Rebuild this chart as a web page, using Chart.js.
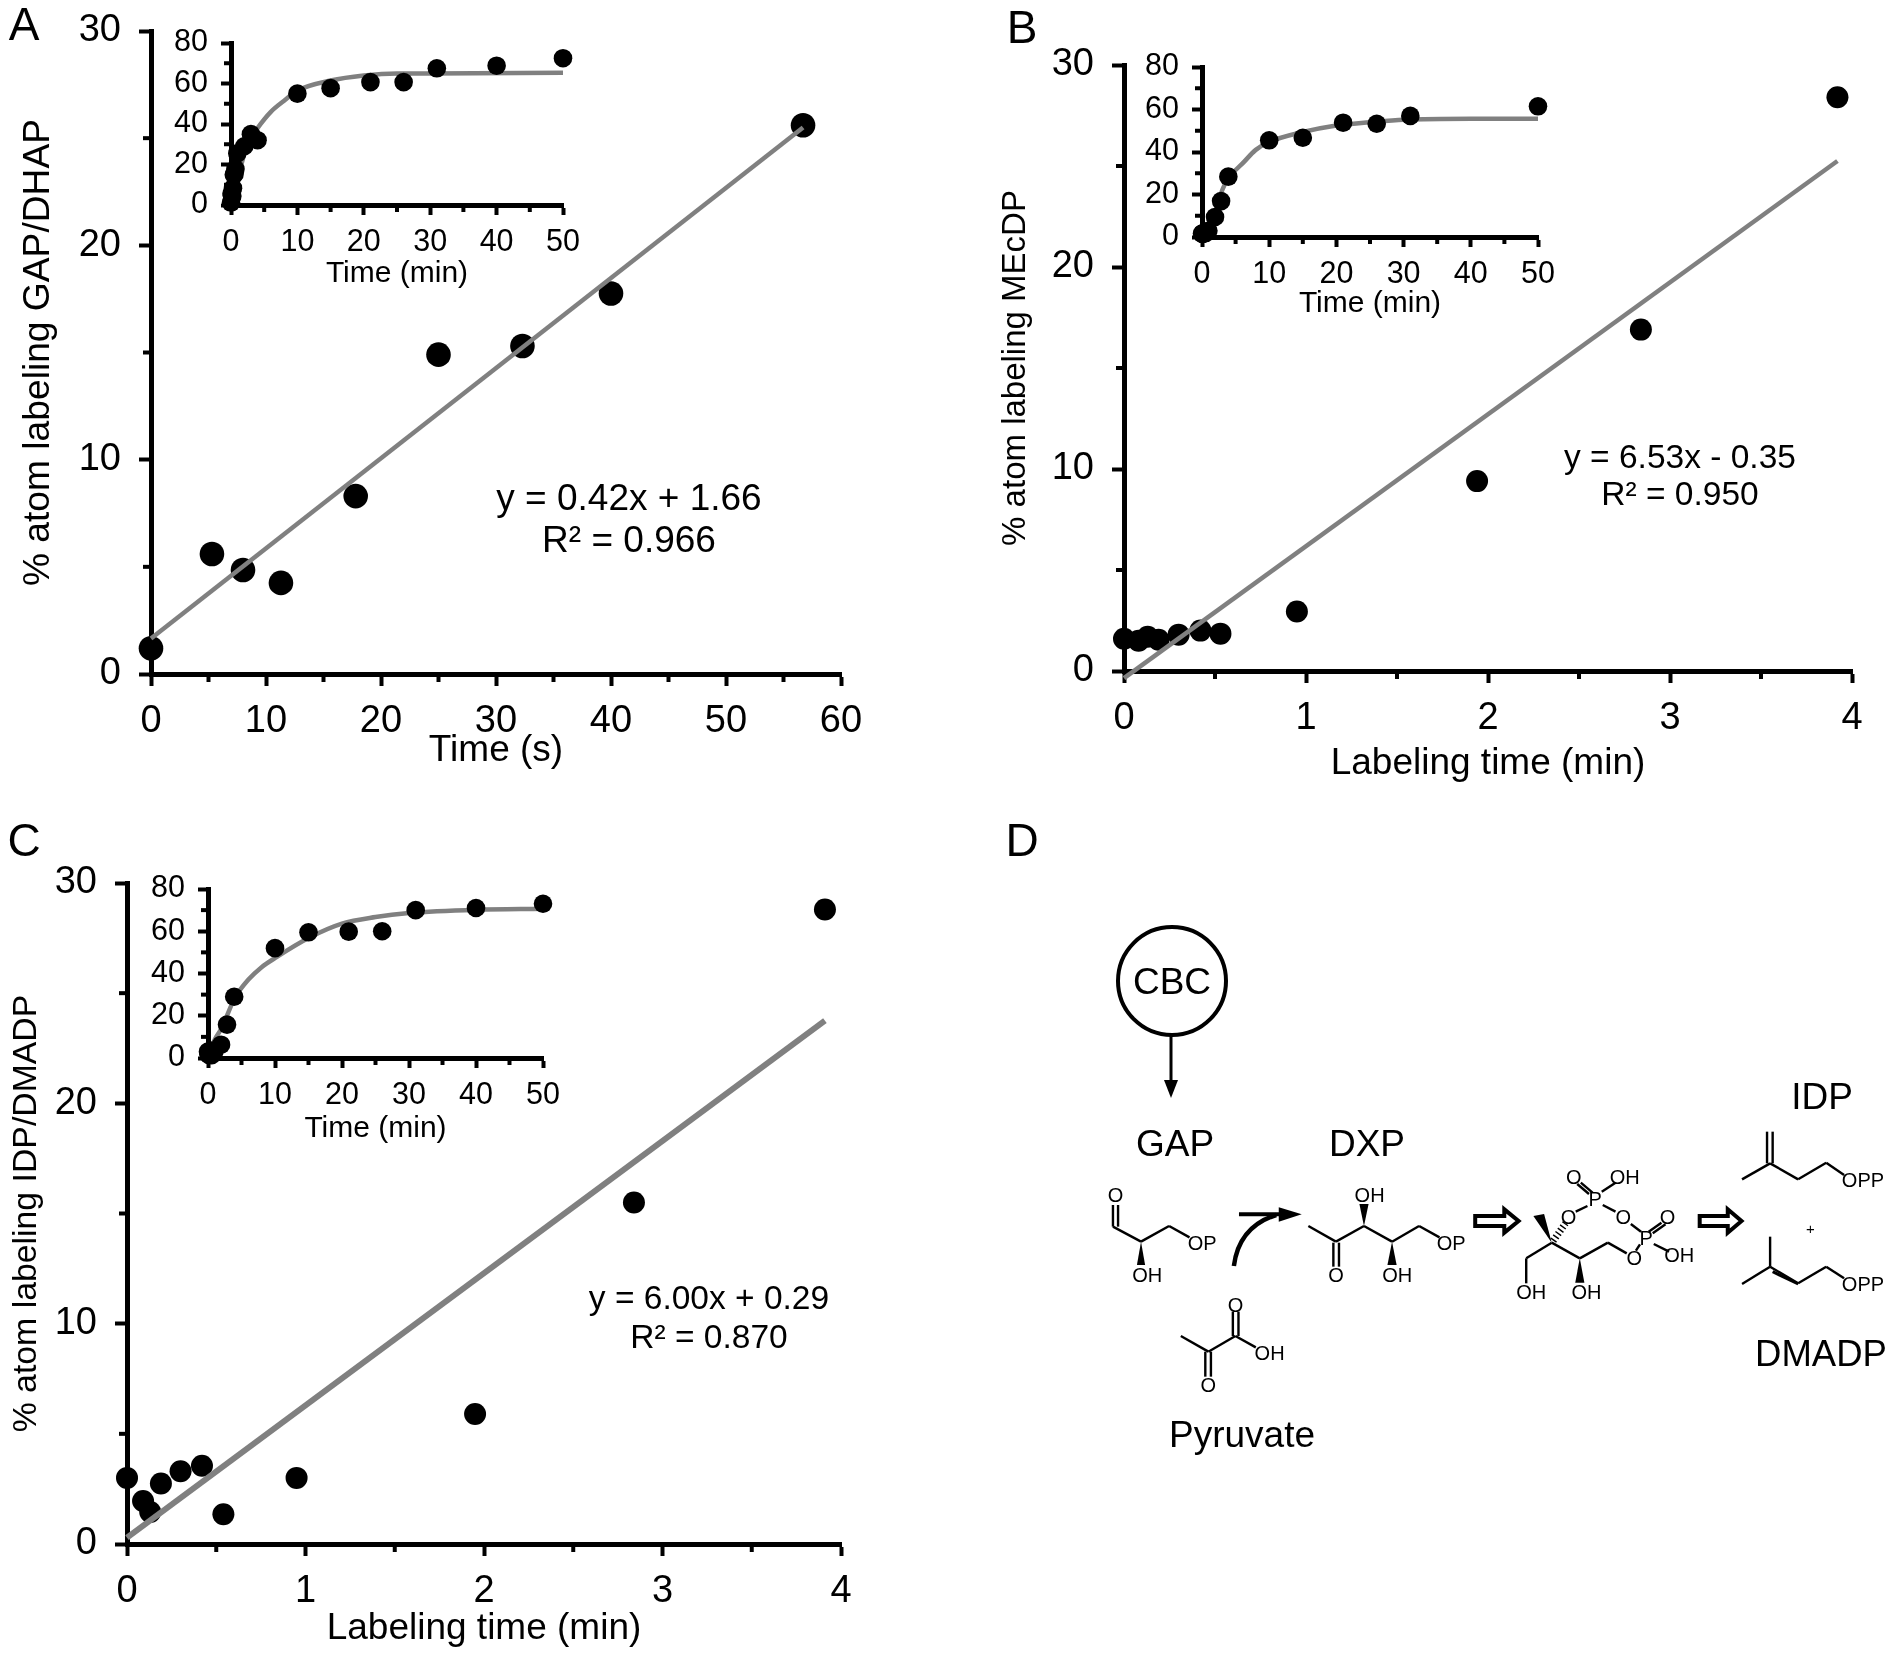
<!DOCTYPE html>
<html>
<head>
<meta charset="utf-8">
<title>Atom labeling</title>
<script src="https://cdn.jsdelivr.net/npm/chart.js@4/dist/chart.umd.min.js"></script>
<style>
html,body{margin:0;padding:0;background:#fff;width:1890px;height:1653px;overflow:hidden}
canvas{position:absolute}
#over{position:absolute;left:0;top:0}
#over text{font-family:"Liberation Sans",Arial,sans-serif;fill:#000;text-anchor:middle;dominant-baseline:central}
</style>
</head>
<body>
<svg id="over" width="1890" height="1653"></svg>
<script>
// panel A, main plot (seconds)
var aTime = [0, 5.3, 8, 11.3, 17.8, 25, 32.3, 40, 56.7];
var aLabel = [1.2, 5.6, 4.85, 4.25, 8.3, 14.9, 15.3, 17.75, 25.6];
var aFitX = [0, 56.7];
var aFitY = [1.66, 25.5];
// panel A, inset (minutes)
var aInsetTime = [0, 0.09, 0.13, 0.19, 0.3, 0.42, 0.54, 0.67, 0.95, 2, 3, 4, 10, 15, 21, 26, 31, 40, 50];
var aInsetLabel = [1.2, 5.6, 4.85, 4.25, 8.3, 14.9, 15.3, 17.75, 25.5, 29, 35, 32, 55, 57.7, 60.7, 60.7, 67.5, 68.8, 72.5];
var aCurveX = [0, 1, 2, 3, 4, 6, 8, 10, 15, 20, 25, 30, 50];
var aCurveY = [1.5, 13, 25, 33, 38, 46, 51.5, 56.5, 61.5, 64, 65, 65, 65.3];

// panel B
var bTime = [0, 0.08, 0.13, 0.19, 0.3, 0.42, 0.53, 0.95, 1.94, 2.84, 3.92];
var bLabel = [1.6, 1.5, 1.7, 1.55, 1.8, 2, 1.85, 2.95, 9.4, 16.9, 28.4];
var bFitX = [0, 3.92];
var bFitY = [-0.35, 25.25];
var bInsetTime = [0, 0.08, 0.13, 0.19, 0.3, 0.42, 0.53, 0.95, 1.94, 2.84, 3.92, 10, 15, 21, 26, 31, 50];
var bInsetLabel = [1.6, 1.5, 1.7, 1.55, 1.8, 2, 1.85, 2.95, 9.4, 16.9, 28.4, 45.5, 46.7, 53.8, 53.3, 57, 61.5];
var bCurveX = [0, 1, 2, 3, 4, 6, 8, 10, 15, 20, 25, 30, 40, 50];
var bCurveY = [0.8, 5.5, 11, 22, 28, 34.5, 41, 44.7, 49.4, 52.5, 54, 55.2, 55.7, 55.7];

// panel C
var cTime = [0, 0.09, 0.13, 0.19, 0.3, 0.42, 0.54, 0.95, 1.95, 2.84, 3.91];
var cLabel = [3, 1.95, 1.45, 2.75, 3.3, 3.55, 1.35, 3, 5.9, 15.5, 28.8];
var cFitX = [0, 3.91];
var cFitY = [0.29, 23.75];
var cInsetTime = [0, 0.09, 0.13, 0.19, 0.3, 0.42, 0.54, 0.95, 1.95, 2.84, 3.91, 10, 15, 21, 26, 31, 40, 50];
var cInsetLabel = [3, 1.95, 1.45, 2.75, 3.3, 3.55, 1.35, 3, 6.3, 15.8, 29, 52, 59.5, 59.8, 60, 70, 71, 73];
var cCurveX = [0, 1, 2, 4, 6, 8, 10, 15, 20, 25, 30, 40, 50];
var cCurveY = [0.8, 8.7, 14, 28.4, 37, 43, 47.3, 56.8, 63.6, 66.7, 68.6, 70.2, 70.7];

var FONT = '"Liberation Sans", Arial, sans-serif';

function toXY(xs, ys){
	var out = [];
	for(var i = 0; i < xs.length; i++){
		out.push({x: xs[i], y: ys[i]});
	}
	return out;
}

// short in-between ticks, placed through the chart's own scales
var minorTicks = {
	id: 'minorTicks',
	beforeDatasetsDraw: function(chart, args, opts){
		var ctx = chart.ctx, sx = chart.scales.x, sy = chart.scales.y, v;
		ctx.save();
		ctx.strokeStyle = '#000';
		ctx.lineWidth = opts.width;
		for(v = sx.min + opts.dx / 2; v < sx.max; v += opts.dx){
			var px = sx.getPixelForValue(v);
			ctx.beginPath();
			ctx.moveTo(px, sx.top);
			ctx.lineTo(px, sx.top + opts.length);
			ctx.stroke();
		}
		for(v = sy.min + opts.dy / 2; v < sy.max; v += opts.dy){
			var py = sy.getPixelForValue(v);
			ctx.beginPath();
			ctx.moveTo(sy.right, py);
			ctx.lineTo(sy.right - opts.length, py);
			ctx.stroke();
		}
		ctx.restore();
	}
};

function makeChart(c){
	var canvas = document.createElement('canvas');
	var left = c.plot[0] - c.margin[0], top = c.plot[1] - c.margin[1];
	var w = c.plot[2] - c.plot[0] + c.margin[0] + c.margin[2];
	var h = c.plot[3] - c.plot[1] + c.margin[1] + c.margin[3];
	canvas.width = w;
	canvas.height = h;
	canvas.style.left = left + 'px';
	canvas.style.top = top + 'px';
	canvas.style.width = w + 'px';
	canvas.style.height = h + 'px';
	document.body.insertBefore(canvas, document.getElementById('over'));
	return new Chart(canvas.getContext('2d'), {
		type: 'scatter',
		data: {
			datasets: [{
				data: toXY(c.pointsX, c.pointsY),
				order: c.lineOnTop ? 2 : 1,
				showLine: false,
				pointRadius: c.radius,
				pointBackgroundColor: '#000',
				pointBorderWidth: 0,
				clip: false
			}, {
				data: toXY(c.lineX, c.lineY),
				order: c.lineOnTop ? 1 : 2,
				showLine: true,
				pointRadius: 0,
				borderColor: '#808080',
				borderWidth: c.lineWidth,
				cubicInterpolationMode: c.curved ? 'monotone' : 'default',
				clip: false
			}]
		},
		options: {
			responsive: false,
			animation: false,
			devicePixelRatio: 1,
			layout: {padding: {left: 0, top: c.margin[1], right: c.margin[2], bottom: 0}},
			plugins: {
				legend: {display: false},
				tooltip: {enabled: false},
				minorTicks: {dx: c.xStep, dy: c.yStep, length: c.minorLen, width: c.tickWidth}
			},
			scales: {
				x: {
					type: 'linear',
					min: 0,
					max: c.xMax,
					afterFit: function(s){ s.height = c.margin[3]; s.paddingLeft = 0; s.paddingRight = 0; },
					border: {color: '#000', width: c.axisWidth},
					grid: {drawOnChartArea: false, tickLength: c.majorLen, tickWidth: c.tickWidth, tickColor: '#000'},
					ticks: {stepSize: c.xStep, color: '#000', autoSkip: false, maxRotation: 0, padding: c.xPad, font: {family: FONT, size: c.tickSize}},
					title: {display: true, text: c.xTitle, color: '#000', padding: {top: 0, bottom: c.xTitlePad}, font: {family: FONT, size: c.xTitleSize, lineHeight: 1.2}}
				},
				y: {
					type: 'linear',
					min: 0,
					max: c.yMax,
					afterFit: function(s){ s.width = c.margin[0]; s.paddingTop = 0; s.paddingBottom = 0; },
					border: {color: '#000', width: c.axisWidth},
					grid: {drawOnChartArea: false, tickLength: c.majorLen, tickWidth: c.tickWidth, tickColor: '#000'},
					ticks: {stepSize: c.yStep, color: '#000', autoSkip: false, padding: c.yPad, font: {family: FONT, size: c.tickSize}},
					title: {display: !!c.yTitle, text: c.yTitle, color: '#000', padding: {top: c.yTitlePad, bottom: 0}, font: {family: FONT, size: c.yTitleSize, lineHeight: 1.2}}
				}
			}
		},
		plugins: [minorTicks]
	});
}

function mainPlot(o){
	o.xTitleSize = 37; o.tickSize = 38; o.radius = o.radius || 11;
	o.lineOnTop = true; o.axisWidth = 5; o.tickWidth = 4; o.majorLen = 12; o.minorLen = 8;
	o.yMax = 30; o.yStep = 10; o.xPad = 13; o.yPad = 18;
	o.lineWidth = o.lineWidth || 4.5;
	return makeChart(o);
}

function insetPlot(o){
	o.tickSize = 30.5; o.xTitleSize = 30; o.yTitle = ''; o.radius = o.radius || 9.3;
	o.lineOnTop = false; o.axisWidth = 5; o.tickWidth = 4; o.majorLen = 10; o.minorLen = 7;
	o.xMax = 50; o.xStep = 10; o.yMax = 80; o.yStep = 20;
	o.xPad = 9; o.yPad = 13; o.lineWidth = 4.5; o.curved = true;
	o.xTitle = 'Time (min)';
	o.xTitlePad = 0;
	return makeChart(o);
}

mainPlot({plot: [151, 31, 841, 674], margin: [151, 31, 35, 101], pointsX: aTime, pointsY: aLabel, lineX: aFitX, lineY: aFitY,
	radius: 12.3, xMax: 60, xStep: 10, xTitle: 'Time (s)', xTitlePad: 2,
	yTitle: '% atom labeling GAP/DHAP', yTitleSize: 37.2, yTitlePad: 16});
mainPlot({plot: [1124, 65, 1852, 671], margin: [134, 65, 35, 117], pointsX: bTime, pointsY: bLabel, lineX: bFitX, lineY: bFitY,
	xMax: 4, xStep: 1, xTitle: 'Labeling time (min)', xTitlePad: 2,
	yTitle: '% atom labeling MEcDP', yTitleSize: 33, yTitlePad: 6});
mainPlot({plot: [127, 883, 841, 1544], margin: [127, 33, 35, 109], pointsX: cTime, pointsY: cLabel, lineX: cFitX, lineY: cFitY,
	lineWidth: 6, xMax: 4, xStep: 1, xTitle: 'Labeling time (min)', xTitlePad: 2,
	yTitle: '% atom labeling IDP/DMADP', yTitleSize: 33.8, yTitlePad: 6});

insetPlot({plot: [231, 43, 563, 205], margin: [70, 20, 28, 87], pointsX: aInsetTime, pointsY: aInsetLabel, lineX: aCurveX, lineY: aCurveY});
insetPlot({plot: [1202, 67, 1538, 237], margin: [70, 20, 28, 85], pointsX: bInsetTime, pointsY: bInsetLabel, lineX: bCurveX, lineY: bCurveY});
insetPlot({plot: [208, 889, 543, 1058], margin: [70, 20, 28, 89], pointsX: cInsetTime, pointsY: cInsetLabel, lineX: cCurveX, lineY: cCurveY});

// letters, equations and the pathway in panel D
var svg = document.getElementById('over');
var NS = 'http://www.w3.org/2000/svg';

function el(name, attrs, txt){
	var e = document.createElementNS(NS, name);
	for(var k in attrs){ e.setAttribute(k, attrs[k]); }
	if(txt){ e.textContent = txt; }
	svg.appendChild(e);
	return e;
}
function text(x, y, size, str){ el('text', {x: x, y: y, 'font-size': size}, str); }

text(24, 24, 46, 'A');
text(1022, 27, 46, 'B');
text(24, 840, 46, 'C');
text(1022, 840, 46, 'D');

text(629, 497, 37, 'y = 0.42x + 1.66');
text(629, 539, 37, 'R² = 0.966');
text(1680, 456, 33.5, 'y = 6.53x - 0.35');
text(1680, 493, 33.5, 'R² = 0.950');
text(709, 1297, 33.5, 'y = 6.00x + 0.29');
text(709, 1336, 33.5, 'R² = 0.870');

text(1172, 981, 37, 'CBC');
text(1175, 1143, 37, 'GAP');
text(1367, 1143, 37, 'DXP');
text(1822, 1096, 37, 'IDP');
text(1821, 1353, 36.5, 'DMADP');
text(1242, 1434, 37, 'Pyruvate');

el('circle', {cx: 1172, cy: 981, r: 54, fill: 'none', stroke: '#000', 'stroke-width': 4});
el('line', {x1: 1171, y1: 1035, x2: 1171, y2: 1082, stroke: '#000', 'stroke-width': 3});
el('polygon', {points: '1164,1080 1178,1080 1171,1098', fill: '#000'});

// structure coordinates below come from a crop, so map them to the page
function zx(x){ return 1090 + x / 1.96; }
function zy(y){ return 1120 + y / 3; }
function bond(x1, y1, x2, y2, w){
	el('line', {x1: zx(x1), y1: zy(y1), x2: zx(x2), y2: zy(y2), stroke: '#000', 'stroke-width': w || 2.4});
}
function poly(pts, fill, sw){
	var s = [];
	for(var i = 0; i < pts.length; i += 2){ s.push(zx(pts[i]) + ',' + zy(pts[i + 1])); }
	el('polygon', {points: s.join(' '), fill: fill, stroke: '#000', 'stroke-width': sw || 0});
}
function atom(x, y, str){ text(zx(x), zy(y), 20, str); }

// GAP
atom(50, 225, 'O'); atom(112, 465, 'OH'); atom(220, 368, 'OP');
bond(45, 255, 45, 320); bond(55, 255, 55, 320); bond(45, 320, 100, 365);
bond(100, 365, 155, 318); bond(155, 318, 195, 352);
poly([100, 365, 92, 435, 108, 435], '#000');

// arrow into DXP
el('path', {d: 'M' + zx(282) + ' ' + zy(438) + ' Q' + zx(292) + ' ' + zy(320) + ' ' + zx(365) + ' ' + zy(285), fill: 'none', stroke: '#000', 'stroke-width': 4.5});
bond(292, 283, 372, 283, 4);
poly([370, 262, 415, 283, 370, 305], '#000');

// DXP
atom(548, 225, 'OH'); atom(482, 465, 'O'); atom(602, 465, 'OH'); atom(708, 368, 'OP');
bond(428, 318, 482, 365); bond(477, 368, 477, 440); bond(488, 368, 488, 440);
bond(482, 365, 537, 318); bond(537, 318, 592, 365); bond(592, 365, 645, 318); bond(645, 318, 685, 352);
poly([537, 318, 528, 252, 546, 252], '#000');
poly([592, 365, 583, 435, 601, 435], '#000');

// hollow arrows
poly([755, 288, 812, 288, 812, 268, 840, 303, 812, 338, 812, 318, 755, 318], '#fff', 4);
poly([1195, 288, 1250, 288, 1250, 268, 1277, 303, 1250, 338, 1250, 318, 1195, 318], '#fff', 4);

// MEcDP
atom(948, 172, 'O'); atom(1048, 172, 'OH'); atom(990, 238, 'P'); atom(938, 290, 'O'); atom(1045, 292, 'O');
atom(1090, 355, 'P'); atom(1132, 290, 'O'); atom(1155, 405, 'OH'); atom(1067, 415, 'O');
atom(865, 515, 'OH'); atom(973, 515, 'OH');
bond(978, 222, 955, 192); bond(985, 218, 962, 188); bond(1003, 215, 1030, 188);
bond(975, 258, 952, 275); bond(1005, 255, 1030, 275); bond(1060, 312, 1080, 335);
bond(1095, 335, 1120, 308); bond(1103, 340, 1128, 313); bond(1105, 372, 1135, 395); bond(1078, 373, 1070, 392);
bond(1052, 400, 1015, 368); bond(1015, 368, 960, 415); bond(960, 415, 905, 368); bond(905, 368, 855, 415); bond(855, 415, 855, 490);
poly([905, 368, 869, 288, 890, 282], '#000');
poly([960, 415, 951, 488, 969, 488], '#000');
el('line', {x1: zx(908), y1: zy(362), x2: zx(932), y2: zy(310), stroke: '#000', 'stroke-width': 7, 'stroke-dasharray': '1.5 2.5'});

// IDP
atom(1515, 180, 'OPP');
bond(1327, 35, 1327, 130); bond(1338, 35, 1338, 130); bond(1333, 130, 1278, 178);
bond(1333, 130, 1388, 178); bond(1388, 178, 1443, 128); bond(1443, 128, 1478, 165);
text(zx(1412), zy(325), 15, '+');

// DMADP
atom(1515, 492, 'OPP');
bond(1333, 350, 1333, 440); bond(1333, 440, 1278, 492); bond(1333, 440, 1388, 490); bond(1338, 455, 1388, 492, 3);
bond(1388, 490, 1443, 440); bond(1443, 440, 1478, 475);

// pyruvate
atom(285, 555, 'O'); atom(232, 795, 'O'); atom(352, 698, 'OH');
bond(178, 648, 232, 695); bond(232, 695, 285, 648); bond(226, 695, 226, 770); bond(237, 695, 237, 770);
bond(280, 575, 280, 648); bond(291, 575, 291, 648); bond(285, 648, 325, 682);
</script>
</body>
</html>
